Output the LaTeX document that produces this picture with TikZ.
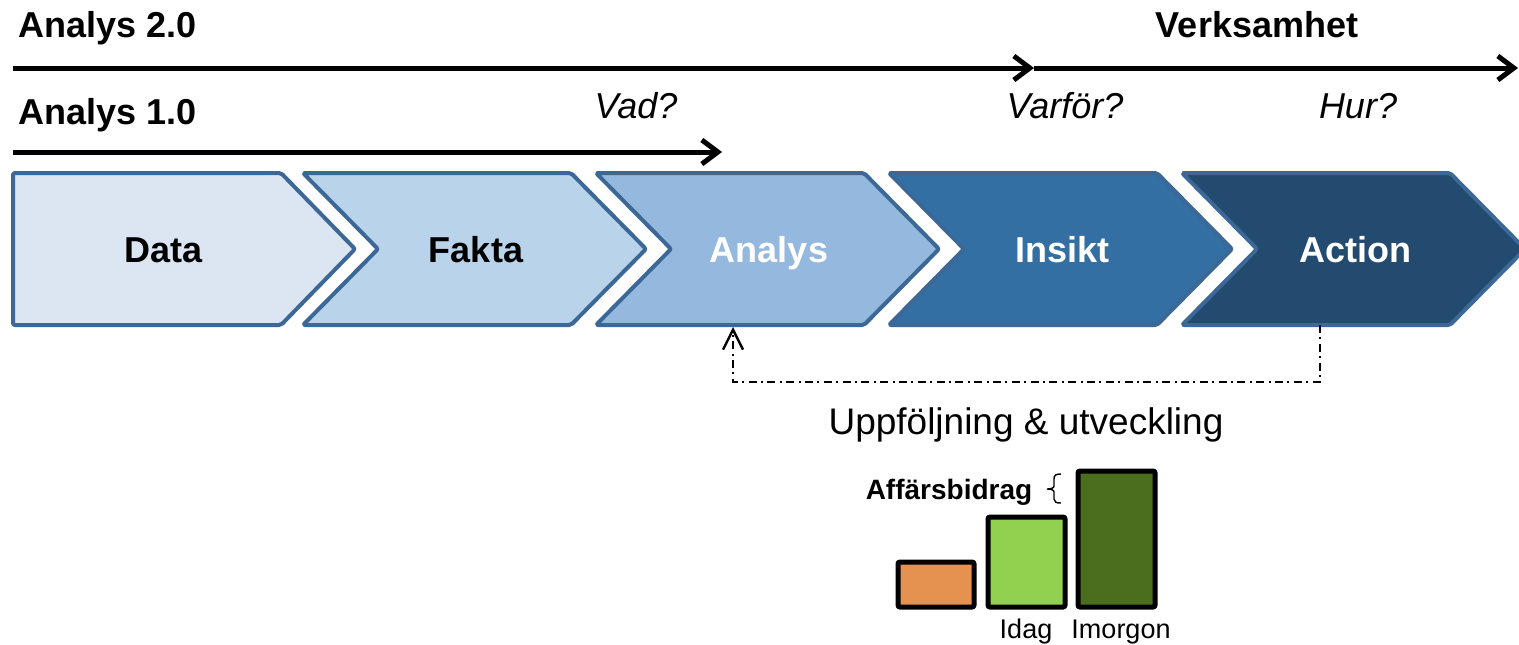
\documentclass[tikz,border=0pt]{standalone}
\usepackage{fontspec}
\setmainfont{Liberation Sans}
\usetikzlibrary{arrows.meta}
\definecolor{cA}{HTML}{DCE6F2}
\definecolor{cB}{HTML}{B9D3EA}
\definecolor{cC}{HTML}{95B9DE}
\definecolor{cD}{HTML}{336FA3}
\definecolor{cE}{HTML}{234A6F}
\definecolor{edge}{HTML}{3B6896}
\definecolor{bOr}{HTML}{E5914F}
\definecolor{bLg}{HTML}{92D050}
\definecolor{bDg}{HTML}{4A6E1E}
\tikzset{
  chev/.style={draw=edge,line width=2pt,line join=round,rounded corners=1pt},
  lbl/.style={font=\fontsize{18}{20}\selectfont\bfseries,inner sep=0pt},
  qst/.style={font=\fontsize{18}{20}\selectfont\itshape,inner sep=0pt,anchor=base},
  hdr/.style={font=\fontsize{18}{20}\selectfont\bfseries,inner sep=0pt},
  bigarrow/.style={line width=2.5pt,-{Straight Barb[length=8pt,width=12pt,line width=2.5pt]}},
  bar/.style={draw=black,line width=2.5pt,rounded corners=1pt},
  small/.style={font=\fontsize{13.5}{15}\selectfont,inner sep=0pt,anchor=base},
  fb/.style={line width=1.2pt,dash pattern=on 4pt off 2.2pt on 1pt off 2.2pt}
}
\begin{document}
\begin{tikzpicture}[x=0.5pt,y=-0.5pt]
\useasboundingbox (0,0) rectangle (1519,644);
% chevrons
\draw[chev,fill=cA] (13,173) -- (281,173) -- (355,249) -- (281,325) -- (13,325) -- cycle;
\foreach \x/\c in {303/cB,596/cC,889/cD,1182/cE}{
  \draw[chev,fill=\c] (\x,173) -- ({\x+268},173) -- ({\x+343},249) -- ({\x+268},325) -- (\x,325) -- ({\x+75},249) -- cycle;
}
\node[lbl,anchor=base] (data) at (164,262) {Data};
\node[lbl,anchor=base] (fakta) at (476,262) {Fakta};
\node[lbl,anchor=base,text=white] (analys) at (769,262) {Analys};
\node[lbl,anchor=base,text=white] (insikt) at (1062,262) {Insikt};
\node[lbl,anchor=base,text=white] (action) at (1355,262) {Action};
% headers
\node[hdr,anchor=base west] (a2) at (18,37) {Analys 2.0};
\node[hdr,anchor=base] (verk) at (1257,37) {Verksamhet};
\node[hdr,anchor=base west] (a1) at (18,124) {Analys 1.0};
\node[qst] (vad) at (636,118) {Vad?};
\node[qst] (varfor) at (1065,118) {Varför?};
\node[qst] (hur) at (1358,118) {Hur?};
% arrows
\coordinate (t0) at (13,68);
\coordinate (t1) at (1034,68);
\coordinate (t2) at (1518,68);
\coordinate (s0) at (13,152);
\coordinate (s1) at (722,152);
\draw[bigarrow] (t0) -- (t1);
\draw[bigarrow] (t1) -- (t2);
\draw[bigarrow] (s0) -- (s1);
% feedback
\coordinate (actB) at (1320,325);
\coordinate (anaB) at (733,327);
\draw[fb,-{Straight Barb[length=10pt,width=10pt,line width=1.2pt]}] (actB) |- (733,382) -- (anaB);
\node[font=\fontsize{18.5}{20}\selectfont,inner sep=0pt,anchor=base] (upp) at (1026,434) {Uppföljning \& utveckling};
% bars
\draw[bar,fill=bOr] (898,562) rectangle (974,607);
\draw[bar,fill=bLg] (988,517) rectangle (1065,607);
\draw[bar,fill=bDg] (1078,471) rectangle (1155,607);
\node[font=\fontsize{14}{16}\selectfont\bfseries,inner sep=0pt,anchor=base] (aff) at (949,499) {Affärsbidrag};
\coordinate (brT) at (1061,474);
\coordinate (brB) at (1061,503);
\draw[line width=0.7pt] (brT) .. controls (1056,474) and (1054,475) .. (1054,479) -- (1054,486)
  .. controls (1054,488) and (1051,489) .. (1047,489)
  .. controls (1051,489) and (1054,490) .. (1054,492) -- (1054,499)
  .. controls (1054,502) and (1056,503) .. (brB);
\node[small] (idag) at (1026,638) {Idag};
\node[small] (imorgon) at (1121,638) {Imorgon};
\end{tikzpicture}
\end{document}
